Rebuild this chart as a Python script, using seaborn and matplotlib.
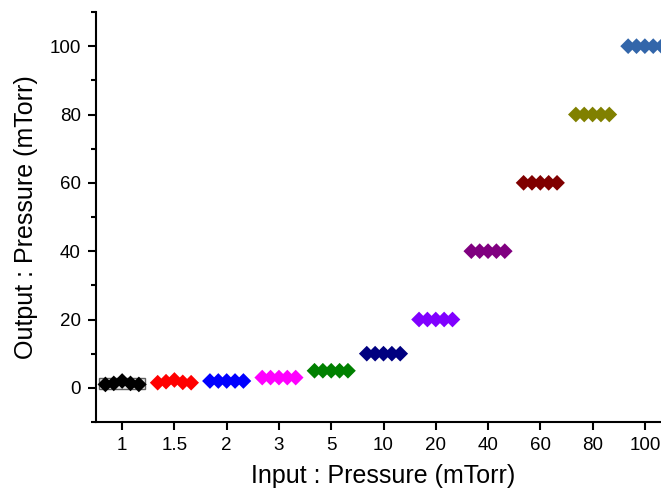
import numpy as np
import pandas as pd
import matplotlib
matplotlib.use("Agg")
import matplotlib.pyplot as plt
import seaborn as sns
from matplotlib.patches import Rectangle
from matplotlib.ticker import MultipleLocator

categories = ["1", "1.5", "2", "3", "5", "10", "20", "40", "60", "80", "100"]
outputs = {
    "1":   [1.0, 1.3, 2.0, 1.3, 1.0],
    "1.5": [1.5, 1.8, 2.3, 1.6, 1.5],
    "2":   [2.0, 2.0, 2.0, 2.0, 2.0],
    "3":   [3.0, 3.0, 3.0, 3.0, 3.0],
    "5":   [5.0, 5.0, 5.0, 5.0, 5.0],
    "10":  [10.0, 10.0, 10.0, 10.0, 10.0],
    "20":  [20.0, 20.0, 20.0, 20.0, 20.0],
    "40":  [40.0, 40.0, 40.0, 40.0, 40.0],
    "60":  [60.0, 60.0, 60.0, 60.0, 60.0],
    "80":  [80.0, 80.0, 80.0, 80.0, 80.0],
    "100": [100.0, 100.0, 100.0, 100.0, 100.0],
}
colors = ["#000000", "#ff0000", "#0000ff", "#ff00ff", "#008000", "#000080",
          "#8000ff", "#800080", "#800000", "#808000", "#3366aa"]

offsets = [-0.32, -0.16, 0.0, 0.16, 0.32]
rows = []
for i, c in enumerate(categories):
    for k, v in enumerate(outputs[c]):
        rows.append({"cat": c, "x": i + offsets[k], "y": v})
df = pd.DataFrame(rows)

sns.set_style("ticks")
plt.rcParams["font.family"] = ["Liberation Sans", "DejaVu Sans"]
plt.rcParams["text.color"] = "black"
plt.rcParams["axes.labelcolor"] = "black"

fig = plt.figure(figsize=(6.61, 4.88), dpi=100)
ax = fig.add_axes([96/661, 1-422/488, 575/661, (422-12)/488])

# selection box around first group
g1 = outputs["1"]
ax.add_patch(Rectangle((-0.44, min(g1) - 1.4), 0.88, max(g1) - min(g1) + 2.4,
                       facecolor="#e6e6e6", edgecolor="#606060", lw=1.0, zorder=1))

sns.scatterplot(data=df, x="x", y="y", hue="cat", palette=colors, marker="D",
                s=64, edgecolor="none", legend=False, ax=ax, zorder=3)

ax.set_xlim(-0.5, 10.5)
ax.set_ylim(-10, 110)
ax.set_xticks(range(len(categories)))
ax.set_xticklabels(categories)
ax.yaxis.set_major_locator(MultipleLocator(20))
ax.yaxis.set_minor_locator(MultipleLocator(10))
ax.set_yticks([0, 20, 40, 60, 80, 100])

for s in ["top", "right"]:
    ax.spines[s].set_visible(False)
for s in ["left", "bottom"]:
    ax.spines[s].set_linewidth(1.5)
    ax.spines[s].set_color("black")
ax.tick_params(axis="both", which="major", direction="out", length=6, width=1.5,
               labelsize=13.5, colors="black", labelcolor="black", pad=5)
ax.tick_params(axis="y", which="minor", direction="out", length=3.5, width=1.5,
               colors="black")

ax.set_xlabel("Input : Pressure (mTorr)", fontsize=18, labelpad=7, color="black")
ax.set_ylabel("Output : Pressure (mTorr)", fontsize=18, labelpad=8, color="black")

fig.savefig("out.png", dpi=100)
